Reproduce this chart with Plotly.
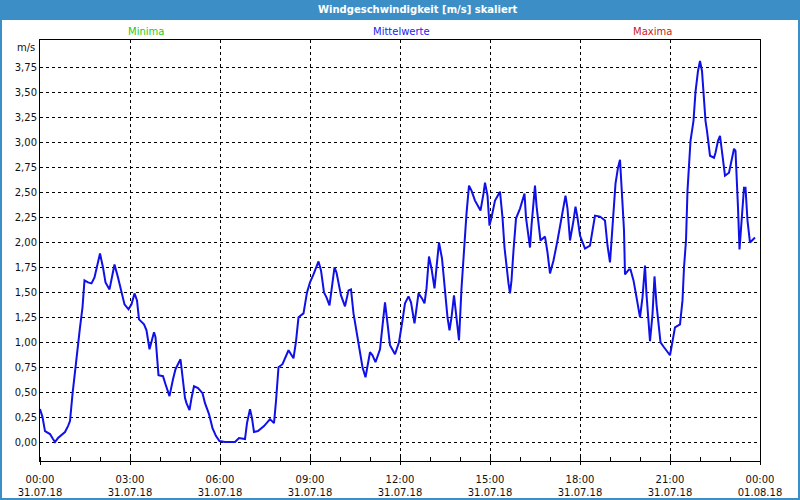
import plotly.graph_objects as go

# ---- data ----
times = ["00:00","00:05","00:10","00:20","00:26","00:30","00:36","00:43","00:50","00:56",
         "01:00","01:05","01:10","01:16","01:20","01:25","01:29","01:36","01:43","01:49","01:55",
         "02:00","02:06","02:11","02:19","02:24","02:29","02:36","02:43","02:49","02:57",
         "03:03","03:09","03:14","03:18","03:28","03:33","03:39","03:48","03:51","03:57",
         "04:06","04:11","04:19","04:26","04:31","04:41","04:44","04:50","04:53","04:59",
         "05:03","05:08","05:16","05:25","05:30","05:38","05:45","05:52","05:59",
         "06:10","06:20","06:30","06:38","06:50","06:54",
         "07:00","07:04","07:08","07:16","07:28","07:40","07:48","07:52","07:57",
         "08:05","08:17","08:27","08:32","08:37","08:47","08:54",
         "09:00","09:07","09:17","09:22","09:28","09:33","09:39","09:49","09:53",
         "10:02","10:10","10:17","10:22","10:27","10:33","10:39","10:45","10:51","10:54",
         "11:00","11:05","11:11","11:20","11:25","11:30","11:35","11:40","11:50","11:58",
         "12:05","12:10","12:17","12:22","12:29","12:37","12:44","12:49","12:53","12:58",
         "13:03","13:09","13:14","13:18","13:24","13:30","13:35","13:39","13:43","13:48","13:53","13:58",
         "14:03","14:09","14:13","14:18","14:23","14:30","14:37","14:41","14:47","14:50","14:55","14:59",
         "15:03","15:10","15:20","15:25","15:29","15:33","15:37","15:40","15:43","15:47","15:52",
         "16:00","16:09","16:12","16:17","16:20","16:23","16:30","16:33","16:38","16:41","16:50","16:55",
         "17:00","17:07","17:15","17:23","17:31","17:35","17:40","17:47","17:51","17:55",
         "18:00","18:10","18:20","18:30","18:40","18:50","18:55",
         "19:00","19:05","19:11","19:16","19:20","19:25","19:28","19:30","19:38","19:41","19:47","19:52","19:56",
         "20:00","20:05","20:10","20:13","20:16","20:20","20:25","20:29","20:33","20:37","20:41","20:48","20:55",
         "21:00","21:04","21:10","21:20","21:25","21:28","21:32","21:35","21:38","21:41","21:47","21:51","21:56",
         "22:00","22:04","22:07","22:11","22:14","22:20","22:28","22:31","22:36","22:40","22:42","22:46","22:50","22:58",
         "23:03","23:08","23:11","23:15","23:16","23:19","23:22","23:25","23:28","23:31","23:35","23:40","23:44","23:50"]

mittelwerte = [0.33,0.25,0.11,0.08,0.03,0.00,0.04,0.07,0.10,0.16,
               0.21,0.48,0.72,0.95,1.15,1.35,1.62,1.60,1.59,1.65,1.77,
               1.89,1.75,1.60,1.53,1.65,1.78,1.65,1.50,1.38,1.33,
               1.38,1.49,1.42,1.23,1.18,1.12,0.93,1.10,1.05,0.67,
               0.66,0.58,0.46,0.63,0.73,0.83,0.70,0.44,0.39,0.32,
               0.44,0.56,0.54,0.49,0.39,0.28,0.14,0.06,0.01,
               0.00,0.00,0.00,0.04,0.03,0.19,
               0.33,0.24,0.10,0.11,0.16,0.23,0.19,0.41,0.75,
               0.78,0.92,0.84,1.01,1.25,1.29,1.50,
               1.60,1.68,1.81,1.72,1.50,1.45,1.37,1.75,1.70,
               1.47,1.36,1.52,1.53,1.29,1.12,0.95,0.75,0.65,0.75,
               0.90,0.87,0.80,0.93,1.19,1.40,1.19,0.97,0.88,1.00,
               1.22,1.39,1.46,1.40,1.19,1.49,1.44,1.39,1.54,1.86,
               1.74,1.54,1.80,2.00,1.84,1.52,1.25,1.12,1.25,1.47,1.25,1.02,
               1.54,2.00,2.29,2.57,2.52,2.42,2.36,2.32,2.49,2.60,2.47,2.17,
               2.25,2.42,2.51,2.25,1.95,1.75,1.59,1.49,1.62,1.92,2.24,
               2.34,2.49,2.25,2.07,1.95,2.17,2.57,2.37,2.12,2.02,2.06,1.90,
               1.69,1.82,2.02,2.25,2.47,2.34,2.02,2.22,2.36,2.25,
               2.07,1.94,1.97,2.27,2.26,2.22,1.97,
               1.80,2.12,2.59,2.75,2.83,2.39,2.12,1.68,1.73,1.73,1.62,1.48,1.38,
               1.25,1.45,1.77,1.48,1.25,1.01,1.28,1.66,1.38,1.15,1.00,0.95,0.90,
               0.87,0.98,1.15,1.18,1.42,1.75,2.02,2.52,2.75,3.02,3.22,3.51,3.72,
               3.82,3.72,3.51,3.22,3.12,2.87,2.85,2.90,3.02,3.07,2.99,2.84,2.67,2.70,
               2.82,2.94,2.92,2.55,2.35,1.93,2.12,2.29,2.55,2.55,2.22,2.00,2.02,2.05]

tick_times = ["2018-07-31 00:00","2018-07-31 03:00","2018-07-31 06:00","2018-07-31 09:00",
              "2018-07-31 12:00","2018-07-31 15:00","2018-07-31 18:00","2018-07-31 21:00",
              "2018-08-01 00:00"]
tick_labels = ["00:00<br>31.07.18","03:00<br>31.07.18","06:00<br>31.07.18","09:00<br>31.07.18",
               "12:00<br>31.07.18","15:00<br>31.07.18","18:00<br>31.07.18","21:00<br>31.07.18",
               "00:00<br>01.08.18"]
y_ticks = [0.0,0.25,0.5,0.75,1.0,1.25,1.5,1.75,2.0,2.25,2.5,2.75,3.0,3.25,3.5,3.75]

x_vals = ["2018-07-31 " + t for t in times]

# ---- geometry helpers (pixel -> paper) ----
W, H = 800, 500
L, R, T, B = 40, 40, 40, 39
PW, PH = W - L - R, H - T - B
def px(x): return (x - L) / PW
def py(y): return (H - B - y) / PH

FONT = "DejaVu Sans"
BAR = "#3c8fc6"

fig = go.Figure()
fig.add_trace(go.Scatter(x=x_vals, y=mittelwerte, mode="lines", name="Mittelwerte",
                         line=dict(color="#1010e8", width=2), showlegend=False))

fig.update_layout(
    width=W, height=H,
    margin=dict(l=L, r=R, t=T, b=B, pad=0, autoexpand=False),
    paper_bgcolor=BAR,
    plot_bgcolor="white",
    separators=", ",
    font=dict(family=FONT, size=10, color="#111111"),
    shapes=[
        dict(type="rect", xref="paper", yref="paper", x0=px(2), x1=px(798), y0=py(498), y1=py(20),
             fillcolor="white", line=dict(width=0), layer="below"),
    ],
    annotations=[
        dict(text="<b>Windgeschwindigkeit [m/s] skaliert</b>", xref="paper", yref="paper",
             x=px(418), y=py(10), showarrow=False, xanchor="center", yanchor="middle",
             font=dict(family=FONT, size=10, color="white")),
        dict(text="Minima", xref="paper", yref="paper", x=px(146), y=py(32), showarrow=False,
             xanchor="center", yanchor="middle", font=dict(family=FONT, size=10, color="#22cc22")),
        dict(text="Mittelwerte", xref="paper", yref="paper", x=px(401), y=py(32), showarrow=False,
             xanchor="center", yanchor="middle", font=dict(family=FONT, size=10, color="#2222ee")),
        dict(text="Maxima", xref="paper", yref="paper", x=px(652), y=py(32), showarrow=False,
             xanchor="center", yanchor="middle", font=dict(family=FONT, size=10, color="#c81c1c")),
        dict(text="m/s", xref="paper", yref="paper", x=px(37), y=py(47), showarrow=False,
             xanchor="right", yanchor="middle", font=dict(family=FONT, size=10, color="#111111")),
    ],
)

fig.update_xaxes(
    type="date",
    range=["2018-07-31 00:00", "2018-08-01 00:00"],
    tickmode="array", tickvals=tick_times, ticktext=tick_labels,
    showgrid=True, gridcolor="black", griddash="3px,3px", gridwidth=1,
    showline=True, linecolor="black", linewidth=1, mirror=True,
    ticks="outside", ticklen=3, tickcolor="black", ticklabelstandoff=6,
    minor=dict(ticks="inside", ticklen=4, tickcolor="black", dtick=3600000,
               tick0="2018-07-31 00:00", showgrid=False),
    zeroline=False, fixedrange=True, automargin=False,
)
fig.update_yaxes(
    range=[-0.19, 4.03],
    tickmode="array", tickvals=y_ticks, tickformat=".2f",
    showgrid=True, gridcolor="black", griddash="3px,3px", gridwidth=1,
    showline=True, linecolor="black", linewidth=1, mirror=True,
    ticks="", zeroline=False, fixedrange=True, automargin=False,
)

fig.write_html("out.html", config={"displayModeBar": False},
               post_script="document.body.style.margin='0';document.body.style.overflow='hidden';")
